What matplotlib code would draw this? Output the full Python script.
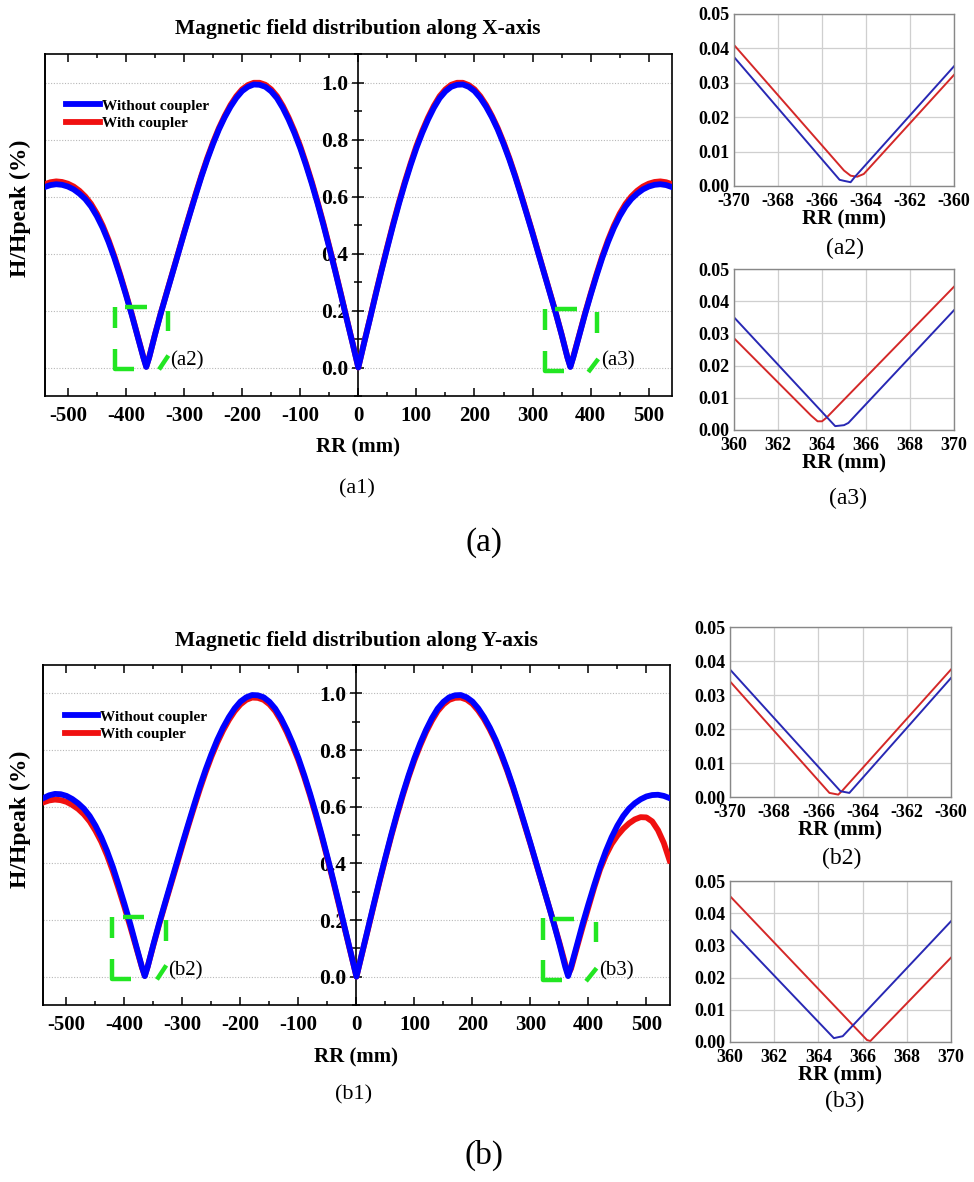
import matplotlib
matplotlib.use("Agg")
import matplotlib.pyplot as plt
from matplotlib.lines import Line2D
from matplotlib.ticker import MultipleLocator

plt.rcParams['font.family'] = ['Liberation Serif', 'DejaVu Serif']
plt.rcParams['axes.unicode_minus'] = False

# ---------------- data ----------------
# sample positions (mm) of the read-off curves
x_left = list(range(-540, -369, 10)) + [-365] + list(range(-360, -9, 10))
x_right = list(range(10, 361, 10)) + [365] + list(range(370, 541, 10))
x_main = x_left + [0] + x_right

# X-axis, without coupler (blue)
xb_left = [0.633, 0.640, 0.643, 0.641, 0.635, 0.625, 0.610, 0.591, 0.565, 0.531, 0.490, 0.441,
           0.385, 0.322, 0.255, 0.185, 0.110, 0.035, 0.002, 0.035, 0.115, 0.190, 0.260, 0.330,
           0.400, 0.470, 0.538, 0.605, 0.670, 0.730, 0.785, 0.835, 0.878, 0.915, 0.946, 0.970,
           0.985, 0.993, 0.992, 0.985, 0.969, 0.945, 0.911, 0.870, 0.823, 0.770, 0.710, 0.645,
           0.575, 0.500, 0.421, 0.340, 0.256, 0.170, 0.086]
xb_right = [0.086, 0.170, 0.256, 0.340, 0.421, 0.500, 0.575, 0.645, 0.710, 0.770, 0.823, 0.870,
            0.911, 0.945, 0.969, 0.985, 0.992, 0.993, 0.985, 0.970, 0.946, 0.915, 0.878, 0.835,
            0.785, 0.730, 0.670, 0.605, 0.538, 0.470, 0.400, 0.330, 0.260, 0.190, 0.115, 0.035,
            0.002, 0.035, 0.110, 0.185, 0.255, 0.322, 0.385, 0.441, 0.490, 0.531, 0.565, 0.591,
            0.610, 0.625, 0.635, 0.641, 0.643, 0.640, 0.633]
# X-axis, with coupler (red)
xr_left = [0.643, 0.650, 0.653, 0.651, 0.645, 0.635, 0.620, 0.600, 0.574, 0.540, 0.498, 0.448,
           0.391, 0.327, 0.259, 0.188, 0.112, 0.037, 0.003, 0.036, 0.116, 0.191, 0.262, 0.332,
           0.402, 0.473, 0.541, 0.609, 0.674, 0.735, 0.790, 0.840, 0.883, 0.921, 0.952, 0.976,
           0.991, 0.999, 0.999, 0.992, 0.976, 0.952, 0.918, 0.877, 0.830, 0.777, 0.716, 0.651,
           0.580, 0.505, 0.425, 0.343, 0.259, 0.172, 0.087]
xr_right = [0.087, 0.172, 0.259, 0.343, 0.425, 0.505, 0.580, 0.651, 0.716, 0.777, 0.830, 0.877,
            0.918, 0.952, 0.976, 0.992, 0.999, 0.999, 0.991, 0.976, 0.952, 0.921, 0.883, 0.840,
            0.790, 0.735, 0.674, 0.609, 0.541, 0.473, 0.402, 0.332, 0.262, 0.191, 0.116, 0.036,
            0.003, 0.037, 0.112, 0.188, 0.259, 0.327, 0.391, 0.448, 0.498, 0.540, 0.574, 0.600,
            0.620, 0.635, 0.645, 0.651, 0.653, 0.650, 0.643]
# Y-axis, without coupler (blue)
yb_left = [0.630, 0.640, 0.645, 0.644, 0.638, 0.627, 0.612, 0.593, 0.567, 0.533, 0.492, 0.443,
           0.387, 0.323, 0.256, 0.186, 0.110, 0.035, 0.002, 0.035, 0.115, 0.190, 0.261, 0.331,
           0.401, 0.471, 0.539, 0.606, 0.671, 0.731, 0.786, 0.836, 0.879, 0.916, 0.947, 0.971,
           0.986, 0.994, 0.993, 0.986, 0.970, 0.946, 0.912, 0.871, 0.824, 0.771, 0.711, 0.646,
           0.576, 0.501, 0.422, 0.341, 0.257, 0.171, 0.086]
yb_right = [0.086, 0.171, 0.257, 0.341, 0.422, 0.501, 0.576, 0.646, 0.711, 0.771, 0.824, 0.871,
            0.912, 0.946, 0.970, 0.986, 0.993, 0.994, 0.986, 0.971, 0.947, 0.916, 0.879, 0.836,
            0.786, 0.731, 0.671, 0.606, 0.539, 0.471, 0.401, 0.331, 0.261, 0.190, 0.115, 0.035,
            0.002, 0.035, 0.110, 0.186, 0.256, 0.323, 0.387, 0.443, 0.492, 0.533, 0.567, 0.593,
            0.612, 0.626, 0.636, 0.641, 0.642, 0.638, 0.630]
# Y-axis, with coupler (red)
yr_left = [0.615, 0.622, 0.625, 0.623, 0.617, 0.606, 0.592, 0.573, 0.548, 0.515, 0.476, 0.428,
           0.372, 0.310, 0.245, 0.176, 0.105, 0.033, 0.003, 0.036, 0.112, 0.186, 0.256, 0.325,
           0.394, 0.464, 0.532, 0.598, 0.662, 0.722, 0.777, 0.826, 0.869, 0.906, 0.937, 0.961,
           0.977, 0.985, 0.984, 0.977, 0.961, 0.937, 0.903, 0.862, 0.815, 0.763, 0.704, 0.639,
           0.569, 0.495, 0.417, 0.336, 0.252, 0.168, 0.084]
yr_right = [0.084, 0.168, 0.253, 0.337, 0.418, 0.496, 0.570, 0.640, 0.705, 0.764, 0.816, 0.863,
            0.903, 0.937, 0.961, 0.977, 0.984, 0.985, 0.978, 0.963, 0.939, 0.909, 0.872, 0.830,
            0.780, 0.726, 0.666, 0.602, 0.535, 0.468, 0.399, 0.330, 0.261, 0.192, 0.120, 0.045,
            0.008, 0.028, 0.102, 0.175, 0.245, 0.315, 0.378, 0.428, 0.468, 0.498, 0.522, 0.541,
            0.555, 0.563, 0.562, 0.548, 0.517, 0.472, 0.410]

x_blue_x = xb_left + [0.0] + xb_right
x_red_x = xr_left + [0.0] + xr_right
y_blue_y = yb_left + [0.0] + yb_right
y_red_y = yr_left + [0.0] + yr_right

# zoomed panels
a2_xb = [-370, -365.2, -365.0, -364.7, -364.5, -360]
a2_yb = [0.0375, 0.0018, 0.0015, 0.0011, 0.0027, 0.0348]
a2_xr = [-370, -365.0, -364.7, -364.4, -364.1, -360]
a2_yr = [0.0410, 0.0045, 0.0030, 0.0027, 0.0035, 0.0323]

a3_xb = [360, 364.6, 365.0, 365.2, 370]
a3_yb = [0.0350, 0.0012, 0.0015, 0.0022, 0.0372]
a3_xr = [360, 363.5, 363.8, 364.0, 364.2, 370]
a3_yr = [0.0285, 0.0045, 0.0027, 0.0027, 0.0038, 0.0445]

b2_xb = [-370, -365.0, -364.6, -360]
b2_yb = [0.0375, 0.0017, 0.0012, 0.0350]
b2_xr = [-370, -365.5, -365.1, -364.9, -360]
b2_yr = [0.0340, 0.0012, 0.0007, 0.0020, 0.0375]

b3_xb = [360, 364.7, 365.1, 370]
b3_yb = [0.0350, 0.0012, 0.0018, 0.0375]
b3_xr = [360, 366.2, 366.35, 370]
b3_yr = [0.0453, 0.0006, 0.0003, 0.0262]

main_xticks = [-500, -400, -300, -200, -100, 0, 100, 200, 300, 400, 500]
main_yticks = [0.0, 0.2, 0.4, 0.6, 0.8, 1.0]
neg_xticks = [-370, -368, -366, -364, -362, -360]
pos_xticks = [360, 362, 364, 366, 368, 370]
small_yticks = [0.00, 0.01, 0.02, 0.03, 0.04, 0.05]

legend_labels = ['Without coupler', 'With coupler']

BLUE = '#0000FF'
RED = '#F01010'
GREEN = '#22E622'
BLUE_S = '#2828B4'
RED_S = '#D42828'

W, H = 974, 1182
fig = plt.figure(figsize=(W / 100, H / 100), dpi=100)


def rect(l, t, r, b):
    return [l / W, 1 - b / H, (r - l) / W, (b - t) / H]


def bracket(ax, left, right, top, bottom, diag):
    segs = [
        ([left, left], [top, top - 0.075]),
        ([left, left, left + 33], [bottom + 0.07, bottom, bottom]),
        ([left + 18, left + 55], [top - 0.001, top - 0.001]),
        ([right, right], [top - 0.012, top - 0.085]),
        (diag[0], diag[1]),
    ]
    for xs, ys in segs:
        ax.plot(xs, ys, color=GREEN, lw=3.2, solid_capstyle='butt', zorder=5)


def main_panel(r, xb, yb, xr, yr, title, tpos, ylpos, xlpos, brackets):
    ax = fig.add_axes(r)
    ax.plot(xr, yr, color=RED, lw=4.2, zorder=3)
    ax.plot(xb, yb, color=BLUE, lw=4.2, zorder=4)
    ax.set_xlim(-540, 540)
    ax.set_ylim(-0.1, 1.1)
    ax.spines['left'].set_position(('data', 0))
    for s in ax.spines.values():
        s.set_linewidth(1.2)
    ax.add_line(Line2D([0, 0], [0, 1], transform=ax.transAxes, color='k', lw=1.4,
                       clip_on=False))
    ax.set_xticks(main_xticks)
    ax.xaxis.set_minor_locator(MultipleLocator(50))
    ax.tick_params(axis='x', which='both', direction='in', top=True, bottom=True,
                   labelsize=15, pad=7, width=1.1)
    ax.tick_params(axis='x', which='major', length=6)
    ax.tick_params(axis='x', which='minor', length=3)
    ax.set_yticks(main_yticks)
    ax.set_yticklabels(['%.1f' % v for v in main_yticks])
    ax.yaxis.set_minor_locator(MultipleLocator(0.1))
    ax.tick_params(axis='y', which='both', direction='inout', left=True, right=False,
                   labelsize=15.5, pad=3, width=1.1)
    ax.tick_params(axis='y', which='major', length=9)
    ax.tick_params(axis='y', which='minor', length=6)
    for lab in ax.get_xticklabels() + ax.get_yticklabels():
        lab.set_fontweight('bold')
    ax.grid(axis='y', which='major', linestyle=(0, (1, 1.5)), color='#b8b8b8', lw=0.8)
    ax.set_axisbelow(True)
    hb = Line2D([], [], color=BLUE, lw=4.2)
    hr = Line2D([], [], color=RED, lw=4.2)
    ax.legend([hb, hr], legend_labels, loc='upper left', bbox_to_anchor=(0.034, 0.868),
              frameon=False, borderpad=0, borderaxespad=0, handlelength=2.2,
              handletextpad=0.15, labelspacing=0.25,
              prop={'family': 'Liberation Serif', 'weight': 'bold', 'size': 11})
    for (left, right, top, bottom, diag, lab, lpos) in brackets:
        bracket(ax, left, right, top, bottom, diag)
        ax.text(lpos[0], lpos[1], lab, fontsize=15, ha='left', va='center', zorder=6)
    fig.text(tpos[0] / W, 1 - tpos[1] / H, title, ha='center', va='center',
             fontsize=15.5, fontweight='bold')
    fig.text(ylpos[0] / W, 1 - ylpos[1] / H, 'H/Hpeak (%)', ha='center', va='center',
             rotation=90, fontsize=17, fontweight='bold')
    fig.text(xlpos[0] / W, 1 - xlpos[1] / H, 'RR (mm)', ha='center', va='center',
             fontsize=15, fontweight='bold')
    return ax


def zoom_panel(r, xlim, xticks, xb, yb, xr, yr):
    ax = fig.add_axes(r)
    ax.plot(xr, yr, color=RED_S, lw=1.4)
    ax.plot(xb, yb, color=BLUE_S, lw=1.4)
    ax.set_xlim(*xlim)
    ax.set_ylim(0, 0.05)
    ax.set_xticks(xticks)
    ax.set_xticklabels(['%d' % v for v in xticks])
    ax.set_yticks(small_yticks)
    ax.set_yticklabels(['%.2f' % v for v in small_yticks])
    ax.grid(True, color='#cfcfcf', lw=0.9)
    ax.set_axisbelow(True)
    for s in ax.spines.values():
        s.set_color('#888888')
        s.set_linewidth(1.0)
    ax.tick_params(axis='x', length=0, labelsize=13, pad=5)
    ax.tick_params(axis='y', length=0, labelsize=13, pad=3)
    for lab in ax.get_xticklabels() + ax.get_yticklabels():
        lab.set_fontweight('bold')
    ax.set_xlabel('RR (mm)', fontsize=15, fontweight='bold', labelpad=0)
    return ax


# ---- (a) ----
br_a = [
    (-419, -327, 0.212, -0.005, ([-343, -327], [-0.007, 0.042]), '(a2)', (-324, 0.022)),
    (321, 411, 0.206, -0.011, ([396, 413], [-0.016, 0.030]), '(a3)', (418, 0.025)),
]
main_panel(rect(44.6, 54, 672, 396), x_main, x_blue_x, x_main, x_red_x,
           'Magnetic field distribution along X-axis', (358, 29), (20, 208), (358, 447), br_a)
zoom_panel(rect(734, 14, 954, 186), (-370, -360), neg_xticks, a2_xb, a2_yb, a2_xr, a2_yr)
zoom_panel(rect(734, 269, 954, 430), (360, 370), pos_xticks, a3_xb, a3_yb, a3_xr, a3_yr)

# ---- (b) ----
br_b = [
    (-421, -328, 0.212, -0.008, ([-344, -328], [-0.01, 0.04]), '(b2)', (-325, 0.02)),
    (321, 413, 0.206, -0.011, ([396, 414], [-0.016, 0.030]), '(b3)', (419, 0.022)),
]
main_panel(rect(43.3, 665, 669.6, 1005), x_main, y_blue_y, x_main, y_red_y,
           'Magnetic field distribution along Y-axis', (356, 641), (20, 819), (356, 1057), br_b)
zoom_panel(rect(730, 627, 951, 797), (-370, -360), neg_xticks, b2_xb, b2_yb, b2_xr, b2_yr)
zoom_panel(rect(730, 881, 951, 1042), (360, 370), pos_xticks, b3_xb, b3_yb, b3_xr, b3_yr)

# captions
caps = [('(a1)', 357, 489, 16), ('(a)', 484, 543, 24), ('(a2)', 845, 248, 17),
        ('(a3)', 848, 498, 17), ('(b1)', 354, 1095, 16), ('(b)', 484, 1155, 24),
        ('(b2)', 842, 858, 17), ('(b3)', 845, 1101, 17)]
for t, x, y, fs in caps:
    fig.text(x / W, 1 - y / H, t, ha='center', va='center', fontsize=fs)

fig.savefig('out.png', dpi=100)
